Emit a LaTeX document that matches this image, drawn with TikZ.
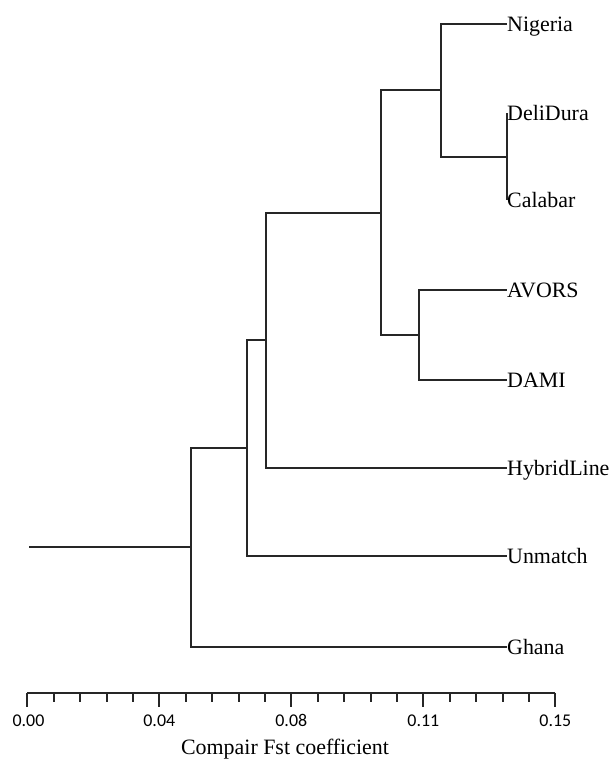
\documentclass[tikz,border=0pt]{standalone}
\usepackage{fontspec}
\setmainfont{Liberation Serif}
\newfontfamily\tickfont{Carlito}
\begin{document}
\begin{tikzpicture}[x=1bp,y=-1bp,
  branch/.style={draw=black!85, line width=2bp},
  axisline/.style={draw=black!85, line width=2bp},
  leaflabel/.style={anchor=base west, inner sep=0pt, font=\fontsize{22}{24}\selectfont},
  ticklabel/.style={anchor=base, inner sep=0pt, font=\tickfont\fontsize{18}{20}\selectfont},
  axistitle/.style={anchor=base, inner sep=0pt, font=\fontsize{22}{24}\selectfont}]
\useasboundingbox (0,0) rectangle (612,760);
% leaf coordinates
\coordinate (lNigeria) at (507,24);
\coordinate (lDeliDura) at (507,113);
\coordinate (lCalabar) at (507,200);
\coordinate (lAVORS) at (507,290);
\coordinate (lDAMI) at (507,380);
\coordinate (lHybridLine) at (507,468);
\coordinate (lUnmatch) at (507,556);
\coordinate (lGhana) at (507,646.5);
% internal nodes
\coordinate (n1) at (507,156.5);
\coordinate (n2) at (440.7,90.25);
\coordinate (n3) at (419,335);
\coordinate (n4) at (381,212.6);
\coordinate (n5) at (265.7,340.3);
\coordinate (n6) at (247.3,448.2);
\coordinate (n7) at (191,547.3);
\coordinate (root) at (29,547.3);
% labels
\foreach \n in {Nigeria,DeliDura,Calabar,AVORS,DAMI,HybridLine,Unmatch,Ghana}
  \node[leaflabel] (t\n) at ([yshift=-7.5bp]l\n) {\n};
% branches
\draw[branch] (n1) |- (lDeliDura);
\draw[branch] (n1) |- (lCalabar);
\draw[branch] (n2) |- (lNigeria);
\draw[branch] (n2) |- (n1);
\draw[branch] (n3) |- (lAVORS);
\draw[branch] (n3) |- (lDAMI);
\draw[branch] (n4) |- (n2);
\draw[branch] (n4) |- (n3);
\draw[branch] (n5) |- (n4);
\draw[branch] (n5) |- (lHybridLine);
\draw[branch] (n6) |- (n5);
\draw[branch] (n6) |- (lUnmatch);
\draw[branch] (n7) |- (n6);
\draw[branch] (n7) |- (lGhana);
\draw[branch] (root) -- (n7);
% axis
\coordinate (a0) at (27.3,692.7);
\coordinate (a1) at (555.3,692.7);
\draw[axisline] (a0) -- (a1);
\foreach \i in {0,...,20}{
  \pgfmathsetmacro{\xx}{27.3+26.4*\i}
  \pgfmathtruncatemacro{\rr}{mod(\i,5)}
  \ifnum\rr=0
    \draw[axisline] (\xx,692.7) -- (\xx,707.3);
  \else
    \draw[axisline] (\xx,692.7) -- (\xx,701.7);
  \fi
}
\node[ticklabel] (k0) at (28.5,726.7) {0.00};
\node[ticklabel] (k1) at (159.3,726.7) {0.04};
\node[ticklabel] (k2) at (291.3,726.7) {0.08};
\node[ticklabel] (k3) at (423.3,726.7) {0.11};
\node[ticklabel] (k4) at (555.3,726.7) {0.15};
\node[axistitle] (title) at (285,754) {Compair Fst coefficient};
\end{tikzpicture}
\end{document}
